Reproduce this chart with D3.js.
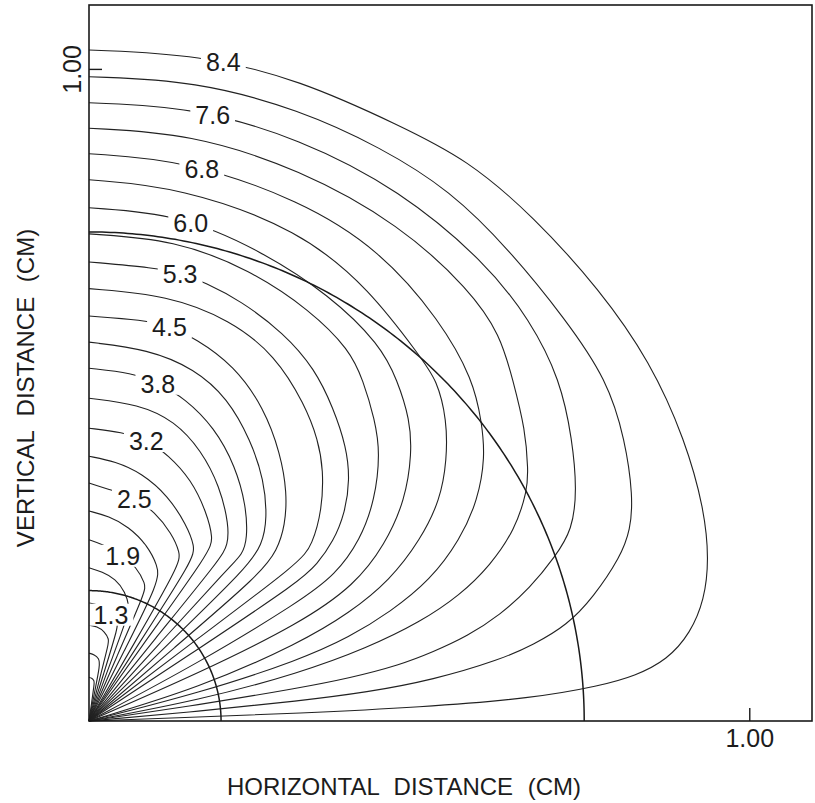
<!DOCTYPE html>
<html>
<head>
<meta charset="utf-8">
<script src="https://cdn.jsdelivr.net/npm/d3@7"></script>
<style>
  body { margin: 0; background: #fff; }
  svg { display: block; }
  text { font-family: "Liberation Sans", Arial, sans-serif; fill: #1c1c1c; }
</style>
</head>
<body>
<div id="chart"></div>
<script>
// contour labels, outermost line first ("" = unlabeled line)
const contourLabels = ["8.4", "", "7.6", "", "6.8", "", "6.0", "", "5.3", "", "4.5", "", "3.8", "", "3.2", "", "2.5", "", "1.9", "", "1.3", "", "", ""];

// each contour as [horizontal cm, vertical cm], from the vertical axis round to the origin
const c00 = [[0,1.029],[0.168,1.022],[0.320,0.983],[0.471,0.913],[0.573,0.861],[0.673,0.774],[0.774,0.661],[0.850,0.551],[0.903,0.431],[0.932,0.324],[0.939,0.247],[0.932,0.186],[0.911,0.135],[0.876,0.094],[0.827,0.069],[0.774,0.054],[0.673,0.035],[0.502,0.021],[0.320,0.012],[0.138,0.005],[0,0]];
const c01 = [[0,0.988],[0.161,0.982],[0.320,0.937],[0.441,0.880],[0.547,0.814],[0.638,0.721],[0.721,0.617],[0.785,0.523],[0.812,0.431],[0.824,0.344],[0.820,0.293],[0.805,0.252],[0.764,0.190],[0.724,0.147],[0.673,0.117],[0.623,0.094],[0.521,0.063],[0.421,0.044],[0.320,0.031],[0.168,0.015],[0,0]];
const c02 = [[0,0.948],[0.156,0.942],[0.320,0.893],[0.471,0.814],[0.600,0.704],[0.668,0.615],[0.714,0.523],[0.732,0.431],[0.739,0.354],[0.732,0.293],[0.706,0.252],[0.668,0.204],[0.623,0.163],[0.573,0.130],[0.521,0.106],[0.471,0.086],[0.395,0.066],[0.320,0.051],[0.168,0.025],[0,0]];
const c03 = [[0,0.909],[0.153,0.901],[0.320,0.846],[0.471,0.761],[0.577,0.661],[0.623,0.592],[0.642,0.523],[0.661,0.446],[0.665,0.385],[0.664,0.354],[0.645,0.293],[0.608,0.239],[0.562,0.193],[0.502,0.152],[0.421,0.112],[0.320,0.074],[0.168,0.032],[0,0]];
const c04 = [[0,0.870],[0.145,0.860],[0.320,0.799],[0.441,0.722],[0.532,0.614],[0.582,0.523],[0.595,0.457],[0.600,0.405],[0.589,0.339],[0.562,0.278],[0.517,0.216],[0.456,0.167],[0.395,0.129],[0.320,0.094],[0.168,0.043],[0,0]];
const c05 = [[0,0.830],[0.138,0.819],[0.320,0.753],[0.426,0.661],[0.502,0.558],[0.527,0.523],[0.542,0.462],[0.542,0.400],[0.532,0.339],[0.502,0.278],[0.456,0.216],[0.395,0.166],[0.320,0.120],[0.168,0.051],[0,0]];
const c06 = [[0,0.787],[0.138,0.777],[0.259,0.722],[0.365,0.653],[0.441,0.577],[0.467,0.523],[0.486,0.462],[0.489,0.411],[0.479,0.339],[0.448,0.270],[0.403,0.209],[0.320,0.150],[0.168,0.074],[0,0]];
const c07 = [[0,0.747],[0.130,0.738],[0.244,0.692],[0.335,0.630],[0.395,0.569],[0.415,0.523],[0.433,0.462],[0.441,0.411],[0.433,0.339],[0.411,0.278],[0.373,0.224],[0.320,0.184],[0.168,0.090],[0,0]];
const c08 = [[0,0.704],[0.100,0.695],[0.139,0.687],[0.176,0.672],[0.229,0.645],[0.295,0.595],[0.342,0.540],[0.370,0.480],[0.390,0.420],[0.395,0.370],[0.388,0.320],[0.370,0.275],[0.345,0.240],[0.320,0.215],[0.168,0.112],[0,0]];
const c09 = [[0,0.663],[0.120,0.653],[0.214,0.615],[0.282,0.561],[0.327,0.485],[0.347,0.431],[0.355,0.385],[0.353,0.324],[0.338,0.270],[0.320,0.244],[0.168,0.129],[0,0]];
const c10 = [[0,0.621],[0.082,0.615],[0.120,0.606],[0.161,0.587],[0.220,0.545],[0.265,0.480],[0.290,0.410],[0.300,0.350],[0.297,0.300],[0.285,0.262],[0.260,0.226],[0.130,0.113],[0,0]];
const c11 = [[0,0.581],[0.090,0.570],[0.160,0.540],[0.210,0.495],[0.245,0.430],[0.265,0.370],[0.270,0.310],[0.262,0.270],[0.240,0.236],[0.120,0.118],[0,0]];
const c12 = [[0,0.541],[0.065,0.534],[0.105,0.518],[0.145,0.495],[0.190,0.450],[0.222,0.390],[0.238,0.330],[0.240,0.280],[0.232,0.255],[0.215,0.239],[0.107,0.119],[0,0]];
const c13 = [[0,0.495],[0.075,0.486],[0.130,0.460],[0.170,0.415],[0.198,0.360],[0.212,0.300],[0.210,0.270],[0.200,0.250],[0.100,0.126],[0,0]];
const c14 = [[0,0.449],[0.050,0.443],[0.088,0.431],[0.120,0.408],[0.155,0.370],[0.178,0.320],[0.188,0.280],[0.183,0.260],[0.090,0.129],[0,0]];
const c15 = [[0,0.406],[0.040,0.398],[0.080,0.380],[0.120,0.345],[0.148,0.300],[0.160,0.268],[0.158,0.248],[0.079,0.124],[0,0]];
const c16 = [[0,0.365],[0.027,0.356],[0.068,0.344],[0.100,0.320],[0.125,0.288],[0.138,0.258],[0.137,0.240],[0.068,0.118],[0,0]];
const c17 = [[0,0.322],[0.030,0.314],[0.060,0.298],[0.088,0.270],[0.104,0.238],[0.107,0.215],[0.053,0.107],[0,0]];
const c18 = [[0,0.278],[0.020,0.271],[0.047,0.258],[0.073,0.235],[0.085,0.210],[0.086,0.200],[0.043,0.101],[0,0]];
const c19 = [[0,0.235],[0.020,0.229],[0.040,0.218],[0.055,0.198],[0.061,0.175],[0.060,0.165],[0.030,0.082],[0,0]];
const c20 = [[0,0.181],[0.015,0.178],[0.030,0.168],[0.042,0.152],[0.045,0.147],[0.022,0.072],[0,0]];
const c21 = [[0,0.147],[0.012,0.145],[0.024,0.137],[0.030,0.125],[0.030,0.120],[0.015,0.060],[0,0]];
const c22 = [[0,0.104],[0.008,0.102],[0.015,0.096],[0.017,0.087],[0.008,0.042],[0,0]];
const c23 = [[0,0.067],[0.004,0.066],[0.008,0.062],[0.008,0.057],[0.004,0.028],[0,0]];
const contours = [c00, c01, c02, c03, c04, c05, c06, c07, c08, c09, c10, c11,
                  c12, c13, c14, c15, c16, c17, c18, c19, c20, c21, c22, c23];

// the two circular guide arcs round the origin (radius, cm)
const arcRadii = [0.2, 0.75];
const xTicks = [1.0];
const yTicks = [1.0];

const width = 815, height = 803;
const svg = d3.select("#chart").append("svg")
    .attr("width", width)
    .attr("height", height);

const x = d3.scaleLinear().domain([0, 1.095]).range([89, 812]);
const y = d3.scaleLinear().domain([0, 1.098]).range([721, 5]);

// B-spline through the read points keeps the hand-drawn lines smooth
const line = d3.line()
    .x(d => x(d[0]))
    .y(d => y(d[1]))
    .curve(d3.curveBasis);

// contour lines
const paths = svg.append("g")
    .selectAll("path")
    .data(contours)
    .join("path")
    .attr("d", line)
    .attr("fill", "none")
    .attr("stroke", "#222")
    .attr("stroke-width", 1.1);

// guide arcs
const arcLine = d3.line()
    .x(d => x(d[0]))
    .y(d => y(d[1]));
svg.append("g")
    .selectAll("path")
    .data(arcRadii)
    .join("path")
    .attr("d", r => arcLine(d3.range(0, 90.5, 0.5).map(a => {
        const t = a * Math.PI / 180;
        return [r * Math.cos(t), r * Math.sin(t)];
    })))
    .attr("fill", "none")
    .attr("stroke", "#1a1a1a")
    .attr("stroke-width", 1.5);

// labels sit on their line where it crosses a ray out of the origin
const labelAngle = 78.5;
const labels = svg.append("g");
paths.each(function (d, i) {
    const txt = contourLabels[i];
    if (!txt) return;
    const len = this.getTotalLength();
    let p = this.getPointAtLength(0);
    for (let s = 0; s < len; s += 0.5) {
        const q = this.getPointAtLength(s);
        const ang = Math.atan2(y(0) - q.y, q.x - x(0)) * 180 / Math.PI;
        if (ang <= labelAngle) { p = q; break; }
    }
    const g = labels.append("g").attr("transform", `translate(${p.x},${p.y})`);
    const t = g.append("text")
        .attr("text-anchor", "middle")
        .attr("dy", "0.36em")
        .style("font-size", "25px")
        .text(txt);
    const bb = t.node().getBBox();
    g.insert("rect", "text")
        .attr("x", bb.x - 5)
        .attr("y", -11)
        .attr("width", bb.width + 10)
        .attr("height", 22)
        .attr("fill", "#fff");
});

// frame
svg.append("rect")
    .attr("x", x(0))
    .attr("y", y(1.098))
    .attr("width", x(1.095) - x(0))
    .attr("height", y(0) - y(1.098))
    .attr("fill", "none")
    .attr("stroke", "#1a1a1a")
    .attr("stroke-width", 1.6);

// axes: inward ticks only
const xAxis = svg.append("g")
    .attr("transform", `translate(0,${y(0)})`)
    .call(d3.axisBottom(x).tickValues(xTicks).tickSize(-13).tickPadding(8).tickFormat(d3.format(".2f")));
const yAxis = svg.append("g")
    .attr("transform", `translate(${x(0)},0)`)
    .call(d3.axisLeft(y).tickValues(yTicks).tickSize(-13).tickFormat(d3.format(".2f")));
[xAxis, yAxis].forEach(a => {
    a.select(".domain").remove();
    a.selectAll(".tick line").attr("stroke", "#1a1a1a").attr("stroke-width", 1.4);
    a.selectAll(".tick text")
        .attr("fill", "#1c1c1c")
        .style("font-family", "'Liberation Sans', Arial, sans-serif")
        .style("font-size", "25px");
});
yAxis.selectAll(".tick text")
    .attr("text-anchor", "middle")
    .attr("transform", "rotate(-90)")
    .attr("x", 0)
    .attr("y", -8)
    .attr("dy", 0);

// axis titles
svg.append("text")
    .attr("x", 404)
    .attr("y", 786)
    .attr("dy", "0.36em")
    .attr("text-anchor", "middle")
    .style("font-size", "24px")
    .style("word-spacing", "8px")
    .text("HORIZONTAL DISTANCE (CM)");
svg.append("text")
    .attr("transform", "translate(25,388) rotate(-90)")
    .attr("dy", "0.36em")
    .attr("text-anchor", "middle")
    .style("font-size", "24px")
    .style("word-spacing", "8px")
    .text("VERTICAL DISTANCE (CM)");
</script>
</body>
</html>
